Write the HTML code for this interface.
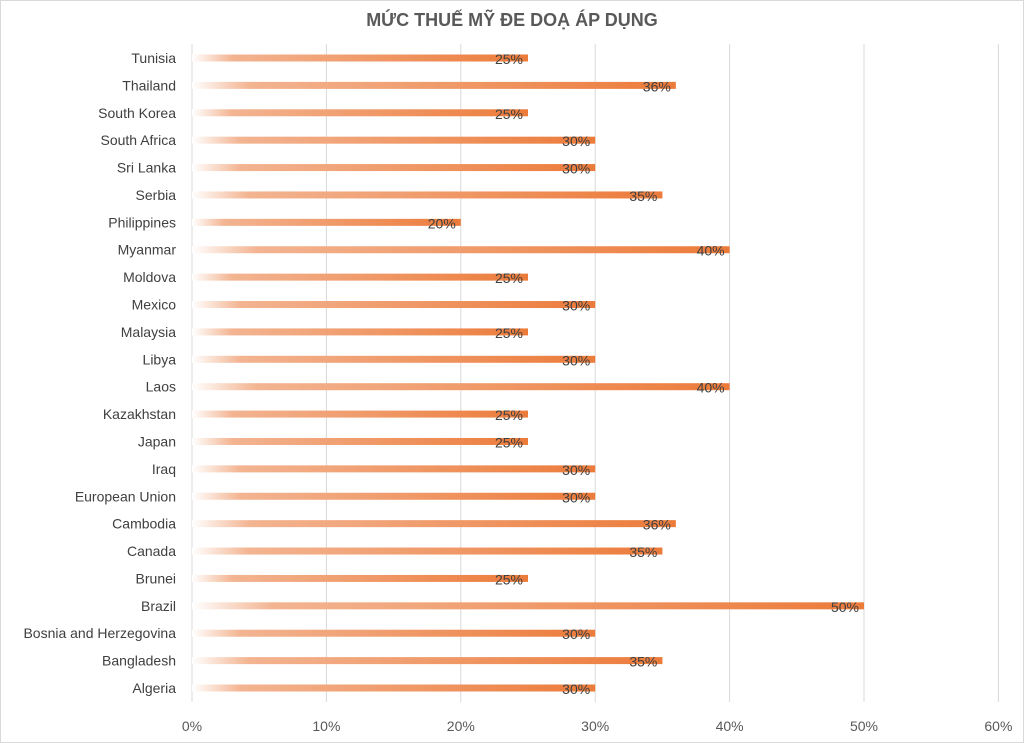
<!DOCTYPE html>
<html><head><meta charset="utf-8"><style>
body{margin:0;background:#fff}
svg{display:block;font-family:"Liberation Sans",sans-serif}
</style></head><body>
<svg id="c" width="1024" height="743">
<defs>
<linearGradient id="g" x1="0" x2="1" y1="0" y2="0">
<stop offset="0" stop-color="#fff"/>
<stop offset="0.12" stop-color="#f3b491"/>
<stop offset="1" stop-color="#ec7b3a"/>
</linearGradient>
</defs>
<rect x="0.5" y="0.5" width="1023" height="742" fill="#fff" stroke="#d9d9d9"/>
<text x="512" y="26" text-anchor="middle" font-size="18" font-weight="bold" fill="#595959">MỨC THUẾ MỸ ĐE DOẠ ÁP DỤNG</text>
<g id="grid"></g><g id="bars"></g>
</svg>
<script>
const categories=["Tunisia","Thailand","South Korea","South Africa","Sri Lanka","Serbia","Philippines","Myanmar","Moldova","Mexico","Malaysia","Libya","Laos","Kazakhstan","Japan","Iraq","European Union","Cambodia","Canada","Brunei","Brazil","Bosnia and Herzegovina","Bangladesh","Algeria"];
const values=[25,36,25,30,30,35,20,40,25,30,25,30,40,25,25,30,30,36,35,25,50,30,35,30];
const ticks=[0,10,20,30,40,50,60];
const NS="http://www.w3.org/2000/svg";
const x0=192,pxPer=134.4/10,yTop=58,step=(688-58)/23;
const xs=v=>x0+v*pxPer, ys=i=>yTop+i*step;
const grid=document.getElementById('grid'),bars=document.getElementById('bars');
function mk(t,a,p){const e=document.createElementNS(NS,t);for(const k in a)e.setAttribute(k,a[k]);p.appendChild(e);return e;}
ticks.forEach(t=>{
  const l=mk('line',{x1:xs(t),x2:xs(t),y1:44,y2:702,stroke:'#d9d9d9','stroke-width':1},grid);
  
  
  const tx=mk('text',{x:xs(t),y:731,'text-anchor':'middle','font-size':14,fill:'#595959'},grid);
  tx.textContent=t+'%';
  
  
});
categories.forEach((c,i)=>{
  const y=ys(i);
  const lb=mk('text',{x:176,y:y+5,'text-anchor':'end','font-size':14,fill:'#404040'},bars);
  lb.textContent=c;
  
  
  const r=mk('rect',{x:x0,y:y-3.5,width:xs(values[i])-x0,height:7,fill:'url(#g)'},bars);
  
  
  const v=mk('text',{x:xs(values[i])-5,y:y+6,'text-anchor':'end','font-size':14,fill:'#404040'},bars);
  v.textContent=values[i]+'%';
  
  
});
</script>
</body></html>
